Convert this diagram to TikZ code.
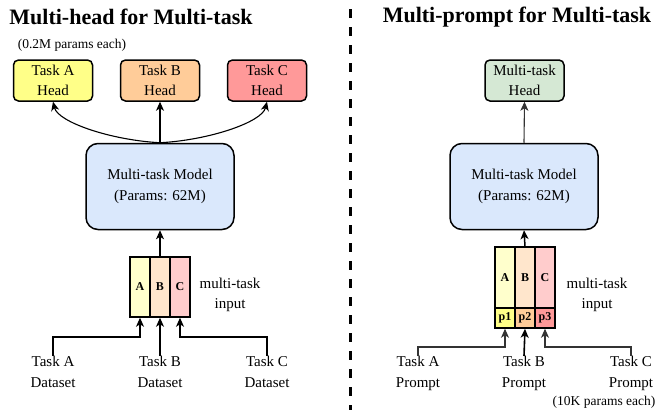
\documentclass[tikz,border=0pt]{standalone}
\usepackage{fontspec}
\setmainfont{Liberation Serif}
\usetikzlibrary{arrows.meta,calc}
\definecolor{headA}{HTML}{FFFF88}
\definecolor{headB}{HTML}{FFCC99}
\definecolor{headC}{HTML}{FF9999}
\definecolor{headG}{HTML}{D5E8D4}
\definecolor{modelc}{HTML}{DAE8FC}
\definecolor{colA}{HTML}{FFFFCC}
\definecolor{colB}{HTML}{FFE6CC}
\definecolor{colC}{HTML}{FFCCCC}
\definecolor{linegray}{HTML}{333333}
\begin{document}
\begin{tikzpicture}[x=1pt,y=-1pt,
  headbox/.style={draw, line width=1.5pt, rounded corners=5pt, minimum width=79pt, minimum height=41pt, align=center, inner sep=0pt, font=\fontsize{15}{20}\selectfont},
  modelbox/.style={draw, line width=1.5pt, rounded corners=12pt, fill=modelc, minimum width=148pt, minimum height=86pt, align=center, inner sep=0pt, font=\fontsize{15}{21}\selectfont},
  colbox/.style={draw, line width=1.5pt, minimum width=20pt, inner sep=0pt, font=\bfseries\fontsize{12}{12}\selectfont},
  lbl/.style={align=center, inner sep=0pt, anchor=north, font=\fontsize{15}{20.5}\selectfont},
  note/.style={inner sep=0pt, font=\fontsize{13.5}{16}\selectfont},
  title/.style={inner sep=0pt, font=\bfseries\fontsize{22}{26}\selectfont},
  arr/.style={-{Stealth[length=9pt,width=8pt,inset=2.5pt]}, line width=1.1pt},
]
\useasboundingbox (0,0) rectangle (657,410);

% ---------- left panel ----------
\node[title] (t1) at (131,17) {Multi-head for Multi-task};
\node[note] (n1) at (72,45) {(0.2M params each)};
\node[headbox, fill=headA] (hA) at (53,80.5) {Task A\\Head};
\node[headbox, fill=headB] (hB) at (160,80.5) {Task B\\Head};
\node[headbox, fill=headC] (hC) at (267,80.5) {Task C\\Head};
\node[modelbox] (m1) at (160,186.5) {Multi-task Model\\(Params: 62M)};
\node[colbox, fill=colA, minimum height=60pt] (iA) at (140,287) {A};
\node[colbox, fill=colB, minimum height=60pt] (iB) at (160,287) {B};
\node[colbox, fill=colC, minimum height=60pt] (iC) at (180,287) {C};
\node[align=center, inner sep=0pt, font=\fontsize{15}{20}\selectfont] (mi1) at (230,295) {multi-task\\input};
\node[lbl] (dA) at (53,356) {Task A\\Dataset};
\node[lbl] (dB) at (160,356) {Task B\\Dataset};
\node[lbl] (dC) at (267,356) {Task C\\Dataset};

\draw[arr] (m1.north) .. controls (110,140) and (58,122) .. (hA.south);
\draw[arr] (m1.north) -- (hB.south);
\draw[arr] (m1.north) .. controls (210,140) and (262,122) .. (hC.south);
\draw[arr] (iB.north) -- (m1.south);
\coordinate (jA) at (140,337);
\coordinate (jC) at (180,337);
\draw[arr] (dA.north) |- (jA) -- (iA.south);
\draw[arr] (dB.north) -- (iB.south);
\draw[arr] (dC.north) |- (jC) -- (iC.south);

% ---------- divider ----------
\coordinate (d1) at (350.5,9);
\coordinate (d2) at (350.5,410);
\draw[line width=3pt, dash pattern=on 9pt off 9pt] (d1) -- (d2);

% ---------- right panel ----------
\node[title] (t2) at (517,17) {Multi-prompt for Multi-task};
\node[headbox, fill=headG] (hG) at (524.5,80.5) {Multi-task\\Head};
\node[modelbox] (m2) at (524,186.5) {Multi-task Model\\(Params: 62M)};
\node[colbox, fill=colA, minimum height=61pt] (rA) at (505,277.5) {A};
\node[colbox, fill=colB, minimum height=61pt] (rB) at (525,277.5) {B};
\node[colbox, fill=colC, minimum height=61pt] (rC) at (545,277.5) {C};
\node[colbox, fill=headA, minimum height=20pt] (p1) at (505,318) {p1};
\node[colbox, fill=headB, minimum height=20pt] (p2) at (525,318) {p2};
\node[colbox, fill=headC, minimum height=20pt] (p3) at (545,318) {p3};
\node[align=center, inner sep=0pt, font=\fontsize{15}{20}\selectfont] (mi2) at (597,295) {multi-task\\input};
\node[lbl] (qA) at (418,356) {Task A\\Prompt};
\node[lbl] (qB) at (524,356) {Task B\\Prompt};
\node[lbl] (qC) at (631,356) {Task C\\Prompt};
\node[note] (n2) at (604,402) {(10K params each)};

\draw[arr, draw=linegray] (m2.north) -- (hG.south);
\draw[arr, line width=1.5pt] (rB.north) -- (m2.south);
\coordinate (kA) at (505,347);
\coordinate (kC) at (545,347);
\draw[arr, draw=linegray] (qA.north) |- (kA) -- (p1.south);
\draw[arr, line width=1.6pt] (qB.north) -- (p2.south);
\draw[arr, draw=linegray] (qC.north) |- (kC) -- (p3.south);
\end{tikzpicture}
\end{document}
